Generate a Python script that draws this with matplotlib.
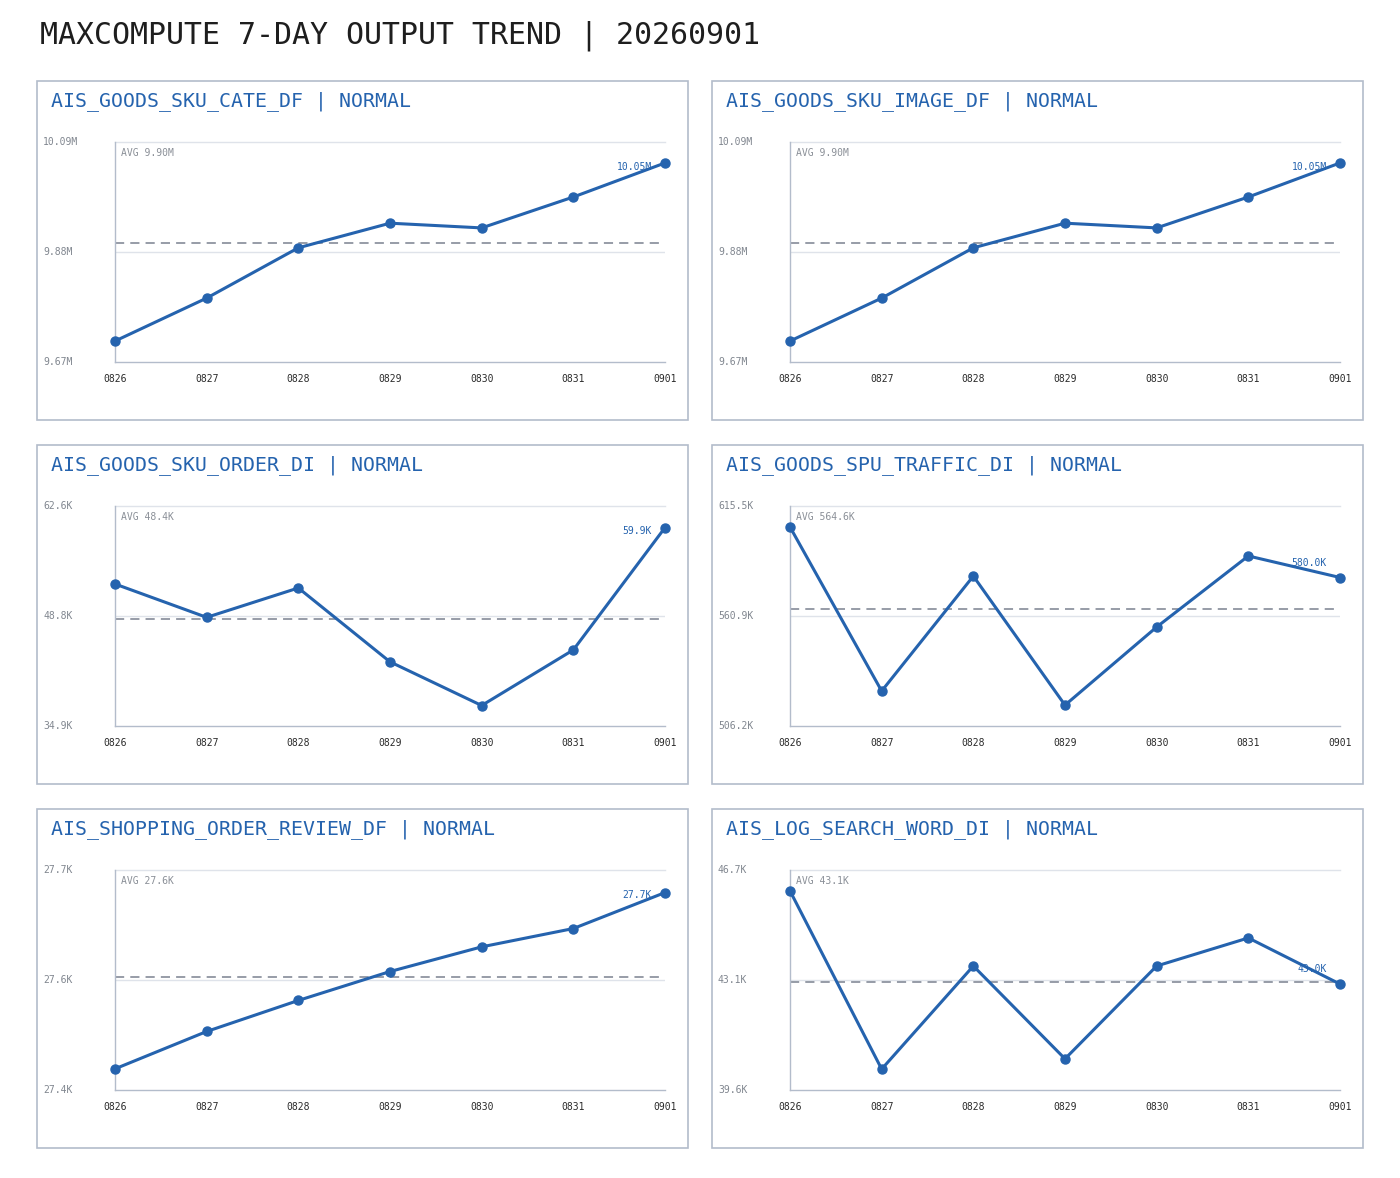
import matplotlib
matplotlib.use("Agg")
import matplotlib.pyplot as plt
from matplotlib.patches import Rectangle
import numpy as np

# ---------------------------------------------------------------- data

TITLE = "MAXCOMPUTE 7-DAY OUTPUT TREND | 20260901"
DAYS = ["0826", "0827", "0828", "0829", "0830", "0831", "0901"]
TABLES = [
    "AIS_GOODS_SKU_CATE_DF", "AIS_GOODS_SKU_IMAGE_DF",
    "AIS_GOODS_SKU_ORDER_DI", "AIS_GOODS_SPU_TRAFFIC_DI",
    "AIS_SHOPPING_ORDER_REVIEW_DF", "AIS_LOG_SEARCH_WORD_DI",
]
STATUS = ["NORMAL", "NORMAL", "NORMAL", "NORMAL", "NORMAL", "NORMAL"]

sku_cate = [9.710e6, 9.792e6, 9.888e6, 9.935e6, 9.926e6, 9.985e6, 10.050e6]
sku_image = [9.710e6, 9.792e6, 9.888e6, 9.935e6, 9.926e6, 9.985e6, 10.050e6]
sku_order = [52.8e3, 48.6e3, 52.3e3, 43.0e3, 37.5e3, 44.5e3, 59.9e3]
spu_traffic = [605.1e3, 523.6e3, 580.7e3, 516.6e3, 555.4e3, 590.7e3, 580.0e3]
order_review = [27450, 27503, 27547, 27588, 27623, 27649, 27700]
search_word = [45990, 40270, 43580, 40600, 43580, 44480, 43000]
SERIES = [sku_cate, sku_image, sku_order, spu_traffic, order_review, search_word]

# y-axis bounds (bottom / top tick)
Y_LO = [9.67e6, 9.67e6, 34920, 506230, 27420, 39600]
Y_HI = [10.09e6, 10.09e6, 62620, 615520, 27732, 46660]

# ---------------------------------------------------------------- style

W, H = 1400, 1178
FONT = "DejaVu Sans Mono"
BLUE = "#2563ae"
BOX = "#b3bccb"
GRID = "#dfe3ea"
GRAY = "#80868f"


def fmt(v):
    return f"{v / 1e6:.2f}M" if v >= 1e6 else f"{v / 1e3:.1f}K"


def fx(px):
    return px / W


def fy(py):
    return 1 - py / H


fig = plt.figure(figsize=(W / 100, H / 100), dpi=100)
fig.patch.set_facecolor("white")
fig.text(fx(40), fy(36), TITLE, fontfamily=FONT, fontsize=21.5, color="#1e1e1e",
         ha="left", va="center")

col_x = [37, 712]
row_y = [81, 445, 809]
box_w, box_h = 651, 339

for i, (name, vals) in enumerate(zip(TABLES, SERIES)):
    bx, by = col_x[i % 2], row_y[i // 2]
    fig.add_artist(Rectangle((fx(bx), fy(by + box_h)), fx(box_w), box_h / H,
                             transform=fig.transFigure, fill=False, ec=BOX, lw=1.2))
    fig.text(fx(bx + 14), fy(by + 20), f"{name} | {STATUS[i]}", fontfamily=FONT,
             fontsize=14.3, color=BLUE, ha="left", va="center")

    ax_l, ax_t, ax_w, ax_h = bx + 78, by + 61, 550, 220
    ax = fig.add_axes([fx(ax_l), fy(ax_t + ax_h), fx(ax_w), ax_h / H])
    lo, hi = Y_LO[i], Y_HI[i]
    mid = (lo + hi) / 2
    x = np.arange(len(DAYS))
    ax.set_xlim(0, len(DAYS) - 1)
    ax.set_ylim(lo, hi)
    for s in ("top", "right"):
        ax.spines[s].set_visible(False)
    for s in ("left", "bottom"):
        ax.spines[s].set_color(BOX)
        ax.spines[s].set_linewidth(1.0)
    ax.axhline(hi, color=GRID, lw=1.0, zorder=0, clip_on=False)
    ax.axhline(mid, color=GRID, lw=1.0, zorder=0)

    ax.set_xticks(x)
    ax.set_xticklabels(DAYS, fontfamily=FONT, fontsize=7, color="#2a2a2a")
    ax.tick_params(axis="x", length=0, pad=9)
    ax.set_yticks([])
    for v in (lo, mid, hi):
        ax.annotate(fmt(v), xy=(0, v), xycoords=("axes fraction", "data"),
                    xytext=(-(ax_l - bx - 6) * 0.72, 0), textcoords="offset points",
                    ha="left", va="center", fontfamily=FONT, fontsize=7, color=GRAY,
                    annotation_clip=False)

    avg = float(np.mean(vals))
    ax.axhline(avg, color="#7a8190", lw=1.1, ls=(0, (6, 4)), zorder=1)
    ax.text(6 / ax_w, 1 - 11 / ax_h, f"AVG {fmt(avg)}", transform=ax.transAxes,
            fontfamily=FONT, fontsize=7, color="#8a8f97", ha="left", va="center")

    ax.plot(x, vals, "-o", color=BLUE, lw=2.2, ms=6.5, zorder=3, clip_on=False)

    last_frac = (vals[-1] - lo) / (hi - lo)
    lab_frac = min(last_frac + 15 / ax_h, 1 - 25 / ax_h)
    ax.annotate(fmt(vals[-1]), xy=(x[-1], lab_frac), xycoords=("data", "axes fraction"),
                xytext=(-13 * 0.72, 0), textcoords="offset points", ha="right",
                va="center", fontfamily=FONT, fontsize=7, color=BLUE, zorder=2)

fig.savefig("out.png", dpi=100, facecolor="white")
